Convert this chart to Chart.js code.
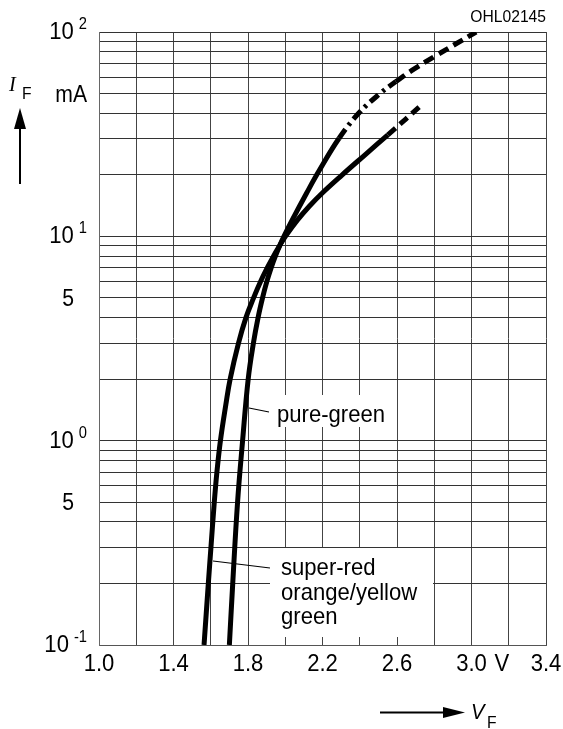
<!DOCTYPE html>
<html>
<head>
<meta charset="utf-8">
<script src="https://cdn.jsdelivr.net/npm/chart.js@4.4.1/dist/chart.umd.min.js"></script>
<style>
  html, body { margin: 0; padding: 0; background: #fff; }
  canvas { display: block; }
</style>
</head>
<body>
<canvas id="chart" width="563" height="729"></canvas>
<script>
// forward voltage V_F (V) vs forward current I_F (mA)
var superRedV = [1.564, 1.587, 1.601, 1.619, 1.633, 1.652, 1.681, 1.704, 1.749, 1.789, 1.830, 1.867, 1.903, 1.937, 1.970, 2.001,
                 2.065, 2.128, 2.199, 2.306, 2.427, 2.551, 2.743];
var superRedI = [0.1, 0.2, 0.3, 0.5, 0.7, 1.0, 1.5, 2.0, 3.0, 4.0, 5.0, 6.0, 7.0, 8.0, 9.0, 10,
                 12.0, 14.0, 16.3, 20.0, 25.0, 31.4, 44.8];
var superRedDashFrom = 21;

var pureGreenV = [1.700, 1.718, 1.744, 1.771, 1.801, 1.829, 1.854, 1.878, 1.901, 1.924, 1.947, 1.970, 1.993,
                  2.037, 2.115, 2.184, 2.289, 2.394, 2.510, 2.594, 2.684, 2.800, 3.025];
var pureGreenI = [0.1, 0.2, 0.5, 1.0, 2.0, 3.0, 4.0, 5.0, 6.0, 7.0, 8.0, 9.0, 10,
                  12.0, 16.3, 21.1, 30.2, 40.0, 50.1, 57.2, 65.2, 75.8, 100];
var pureGreenDashDotFrom = 16;
var pureGreenDashFrom = 19;

var xGrid = [1.0, 1.2, 1.4, 1.6, 1.8, 2.0, 2.2, 2.4, 2.6, 2.8, 3.0, 3.2, 3.4];
var xLabels = [1.0, 1.4, 1.8, 2.2, 2.6, 3.0, 3.4];
var yGrid = [0.1, 0.2, 0.3, 0.4, 0.5, 0.6, 0.7, 0.8, 0.9,
             1, 2, 3, 4, 5, 6, 7, 8, 9,
             10, 20, 30, 40, 50, 60, 70, 80, 90, 100];
var yDecades = [0.1, 1, 10, 100];
var yFives = [0.5, 5];

var FONT = '"Liberation Sans", Arial, sans-serif';
var SERIF = '"Liberation Serif", "Times New Roman", serif';
var SQUEEZE = 0.92;

function pts(xs, ys) {
  return xs.map(function(x, i) { return { x: x, y: ys[i] }; });
}

function txt(ctx, s, x, y, size, align, italic, family) {
  ctx.save();
  ctx.font = (italic ? 'italic ' : '') + size + 'px ' + (family || FONT);
  ctx.textAlign = 'left';
  ctx.textBaseline = 'alphabetic';
  var w = ctx.measureText(s).width * SQUEEZE;
  var left = x;
  if (align === 'right') left = x - w;
  if (align === 'center') left = x - w / 2;
  ctx.translate(left, y);
  ctx.scale(SQUEEZE, 1);
  ctx.fillText(s, 0, 0);
  ctx.restore();
  return w;
}

var labelBoxes = {
  id: 'labelBoxes',
  beforeDatasetsDraw: function(chart) {
    var ctx = chart.ctx;
    ctx.save();
    ctx.fillStyle = '#fff';
    ctx.fillRect(270, 395, 120, 32);
    ctx.fillRect(270, 548, 163, 89);
    ctx.restore();
  }
};

var annotations = {
  id: 'annotations',
  afterDraw: function(chart) {
    var ctx = chart.ctx;
    var xs = chart.scales.x, ys = chart.scales.y;
    ctx.save();
    ctx.fillStyle = '#000';
    ctx.strokeStyle = '#000';

    // y axis labels
    yDecades.forEach(function(v) {
      var py = ys.getPixelForValue(v);
      var exp = String(Math.round(Math.log10(v)));
      var sw = txt(ctx, exp, 87, py - 3, 16, 'right');
      txt(ctx, '10', 87 - sw - 5, py + 7, 24, 'right');
    });
    yFives.forEach(function(v) {
      txt(ctx, '5', 74, ys.getPixelForValue(v) + 8, 23, 'right');
    });
    txt(ctx, 'mA', 87, ys.getPixelForValue(50) + 8, 23, 'right');

    // x axis labels
    xLabels.forEach(function(v) {
      txt(ctx, v.toFixed(1), xs.getPixelForValue(v), 671, 24, 'center');
    });
    txt(ctx, 'V', xs.getPixelForValue(3.2) - 7, 671, 24, 'center');

    // axis names
    txt(ctx, 'I', 9, 91, 22, 'left', true, SERIF);
    txt(ctx, 'F', 22, 99, 17, 'left');
    txt(ctx, 'V', 471, 719, 22, 'left', true);
    txt(ctx, 'F', 487, 728, 17, 'left');
    txt(ctx, 'OHL02145', 546, 22, 17, 'right');

    // arrows
    ctx.lineWidth = 2;
    ctx.beginPath();
    ctx.moveTo(20, 184); ctx.lineTo(20, 126);
    ctx.moveTo(380, 712.5); ctx.lineTo(445, 712.5);
    ctx.stroke();
    ctx.beginPath();
    ctx.moveTo(14, 129); ctx.lineTo(20, 108); ctx.lineTo(26, 129); ctx.closePath();
    ctx.fill();
    ctx.beginPath();
    ctx.moveTo(443, 707); ctx.lineTo(465, 712.5); ctx.lineTo(443, 718); ctx.closePath();
    ctx.fill();

    // curve labels with leader lines
    ctx.lineWidth = 1.2;
    ctx.beginPath();
    ctx.moveTo(249, 408); ctx.lineTo(269, 412);
    ctx.moveTo(213, 561); ctx.lineTo(270, 568);
    ctx.stroke();
    txt(ctx, 'pure-green', 277, 421.5, 24, 'left');
    txt(ctx, 'super-red', 281, 575, 24, 'left');
    txt(ctx, 'orange/yellow', 281, 599.5, 24, 'left');
    txt(ctx, 'green', 281, 624, 24, 'left');
    ctx.restore();
  }
};

function dashAfter(from, pattern) {
  return function(c) { return c.p0DataIndex >= from ? pattern : undefined; };
}

function greenDash(c) {
  if (c.p0DataIndex >= pureGreenDashFrom) return [11, 6];
  if (c.p0DataIndex >= pureGreenDashDotFrom) return [11, 5, 3, 5];
  return undefined;
}

new Chart(document.getElementById('chart'), {
  type: 'scatter',
  data: {
    datasets: [
      {
        label: 'super-red, orange/yellow, green',
        data: pts(superRedV, superRedI),
        showLine: true,
        borderColor: '#000',
        borderWidth: 5,
        pointRadius: 0,
        tension: 0.4,
        borderCapStyle: 'butt',
        segment: { borderDash: dashAfter(superRedDashFrom, [10, 6]) }
      },
      {
        label: 'pure-green',
        data: pts(pureGreenV, pureGreenI),
        showLine: true,
        borderColor: '#000',
        borderWidth: 5,
        pointRadius: 0,
        tension: 0.4,
        borderCapStyle: 'butt',
        segment: { borderDash: greenDash }
      }
    ]
  },
  options: {
    responsive: false,
    animation: false,
    devicePixelRatio: 1,
    layout: { padding: { top: 32, right: 17, left: 0, bottom: 0 } },
    plugins: { legend: { display: false }, tooltip: { enabled: false } },
    scales: {
      x: {
        type: 'linear',
        min: 1.0,
        max: 3.4,
        afterBuildTicks: function(s) { s.ticks = xGrid.map(function(v) { return { value: v }; }); },
        afterFit: function(s) { s.height = 84; },
        ticks: { display: false },
        grid: { color: '#444', lineWidth: 1, drawTicks: false },
        border: { color: '#555', width: 1 }
      },
      y: {
        type: 'logarithmic',
        min: 0.1,
        max: 100,
        afterBuildTicks: function(s) { s.ticks = yGrid.map(function(v) { return { value: v }; }); },
        afterFit: function(s) { s.width = 99; },
        ticks: { display: false },
        grid: { color: '#333', lineWidth: 1, drawTicks: false },
        border: { color: '#666', width: 1 }
      }
    }
  },
  plugins: [labelBoxes, annotations]
});
</script>
</body>
</html>
